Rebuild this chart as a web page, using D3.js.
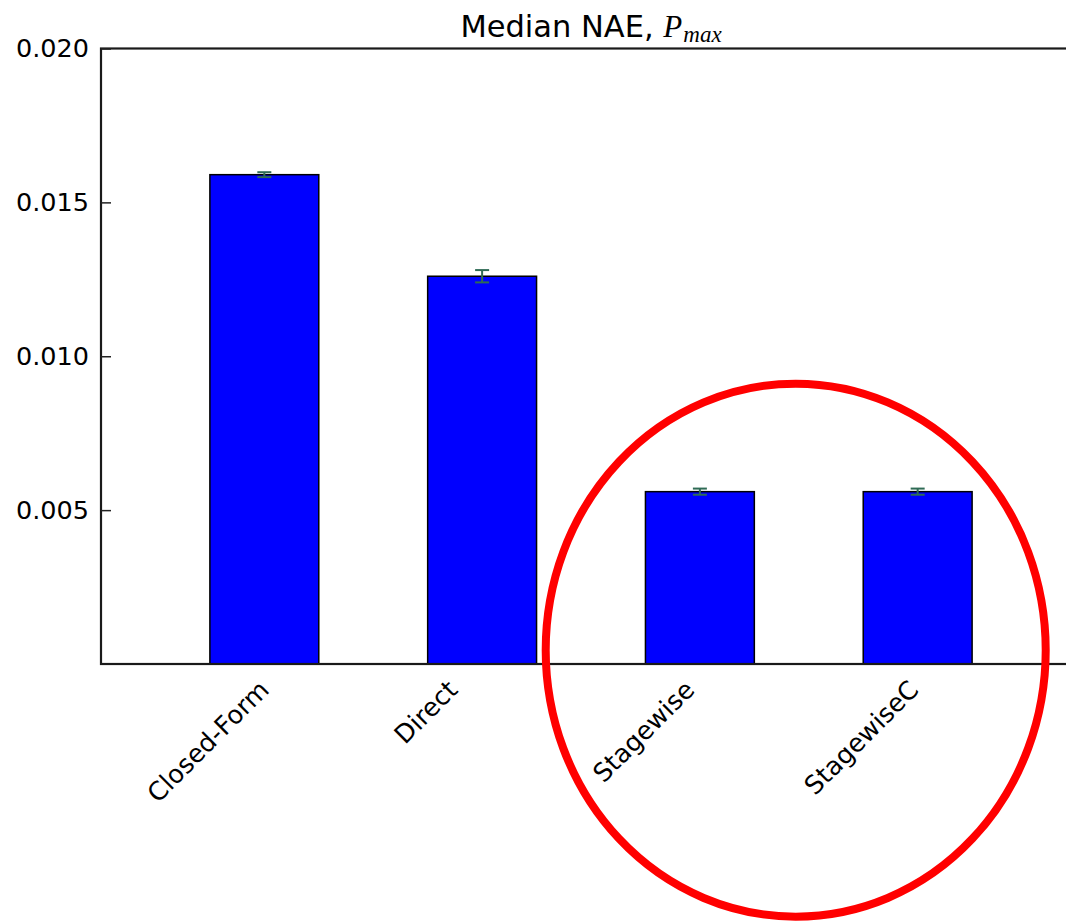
<!DOCTYPE html>
<html>
<head>
<meta charset="utf-8">
<script src="https://cdn.jsdelivr.net/npm/d3@7"></script>
<style>
  html, body { margin: 0; padding: 0; background: #ffffff; }
  svg { display: block; }
</style>
</head>
<body>
<svg id="chart" width="1066" height="924"></svg>
<script>
// Methods compared and their median NAE of P_max
const categories = ["Closed-Form", "Direct", "Stagewise", "StagewiseC"];
const medianNAE  = [0.0159, 0.0126, 0.0056, 0.0056];
const errHalf    = [0.00008, 0.0002, 0.0001, 0.0001];
const yTicks     = [0.005, 0.010, 0.015, 0.020];
const yTickLabels = ["0.005", "0.010", "0.015", "0.020"];

// Red ring drawn around the stagewise results (data units)
const ringCenterX = 2.69;
const ringCenterY = 0.00045;
const ringRadiusX = 1.148;
const ringRadiusY = 0.00866;

const svg = d3.select("#chart");
const plot = { left: 101, right: 1081, top: 48.5, bottom: 664 };
const barWidth = 0.5;

const x = d3.scaleLinear().domain([-0.5, 4.0]).range([plot.left, plot.right]);
const y = d3.scaleLinear().domain([0, 0.02]).range([plot.bottom, plot.top]);

const FONT = "'DejaVu Sans', sans-serif";
const tickFont = 25.5;

// Bars (left edge at category index, like classic matplotlib bar)
svg.append("g").selectAll("rect")
  .data(categories)
  .join("rect")
  .attr("x", (d, i) => x(i))
  .attr("y", (d, i) => y(medianNAE[i]))
  .attr("width", (d, i) => x(i + barWidth) - x(i))
  .attr("height", (d, i) => y(0) - y(medianNAE[i]))
  .attr("fill", "#0000ff")
  .attr("stroke", "#000000")
  .attr("stroke-width", 1.5);

// Error bars at bar centres
const errColor = "#2f6b55";
const eb = svg.append("g").attr("stroke", errColor).attr("stroke-width", 2);
categories.forEach((c, i) => {
  const cx = x(i + barWidth / 2);
  const y0 = y(medianNAE[i] - errHalf[i]);
  const y1 = y(medianNAE[i] + errHalf[i]);
  eb.append("line").attr("x1", cx).attr("x2", cx).attr("y1", y0).attr("y2", y1);
  eb.append("line").attr("x1", cx - 7).attr("x2", cx + 7).attr("y1", y0).attr("y2", y0);
  eb.append("line").attr("x1", cx - 7).attr("x2", cx + 7).attr("y1", y1).attr("y2", y1);
});

// Axes frame
svg.append("rect")
  .attr("x", plot.left).attr("y", plot.top)
  .attr("width", plot.right - plot.left).attr("height", plot.bottom - plot.top)
  .attr("fill", "none").attr("stroke", "#1a1a1a").attr("stroke-width", 2.2);

// Y axis: inward ticks and labels
const yAxis = d3.axisLeft(y)
  .tickValues(yTicks)
  .tickFormat((d, i) => yTickLabels[i])
  .tickSizeInner(-10)
  .tickSizeOuter(0)
  .tickPadding(12);
const gy = svg.append("g").attr("transform", `translate(${plot.left},0)`).call(yAxis);
gy.select(".domain").remove();
gy.selectAll(".tick line").attr("stroke", "#222222").attr("stroke-width", 1.5);
gy.selectAll(".tick text")
  .attr("font-family", FONT).attr("font-size", tickFont).attr("fill", "#000000");

// Right-side inward ticks
svg.append("g").selectAll("line").data(yTicks).join("line")
  .attr("x1", plot.right).attr("x2", plot.right - 10)
  .attr("y1", d => y(d)).attr("y2", d => y(d))
  .attr("stroke", "#222222").attr("stroke-width", 1.5);

// X tick labels: rotated 45°, rotated box centred on the tick, box top under the axis
const labelTop = 676;
const lblG = svg.append("g");
categories.forEach((c, i) => {
  const t = lblG.append("text")
    .attr("font-family", FONT).attr("font-size", tickFont).attr("fill", "#000000")
    .attr("text-anchor", "middle")
    .attr("dominant-baseline", "central")
    .text(c);
  const L = t.node().getComputedTextLength();
  const H = tickFont * 1.0;
  const cy = labelTop + (L + H) * Math.SQRT1_2 / 2;
  t.attr("transform", `translate(${x(i) - 2},${cy}) rotate(-45)`);
});

// Title
const title = svg.append("text")
  .attr("x", (plot.left + plot.right) / 2)
  .attr("y", 37)
  .attr("text-anchor", "middle")
  .attr("font-family", FONT)
  .attr("font-size", 30.5)
  .attr("fill", "#000000");
title.append("tspan").text("Median NAE, ");
title.append("tspan")
  .attr("font-family", "'Liberation Serif', serif")
  .attr("font-style", "italic")
  .attr("font-size", 31)
  .text("P");
title.append("tspan")
  .attr("font-family", "'Liberation Serif', serif")
  .attr("font-style", "italic")
  .attr("font-size", 23)
  .attr("dx", 1)
  .attr("dy", 5)
  .text("max");

// Highlight ring
svg.append("ellipse")
  .attr("cx", x(ringCenterX))
  .attr("cy", y(ringCenterY))
  .attr("rx", x(ringRadiusX) - x(0))
  .attr("ry", y(0) - y(ringRadiusY))
  .attr("fill", "none")
  .attr("stroke", "#ff0000")
  .attr("stroke-width", 8);
</script>
</body>
</html>
